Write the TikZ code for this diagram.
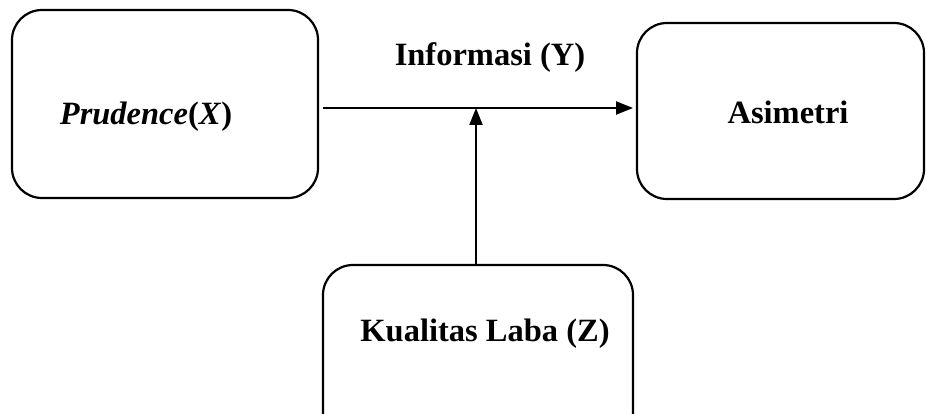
\documentclass[tikz,border=0pt]{standalone}
\usepackage{fontspec}
\setmainfont{Liberation Serif}
\usetikzlibrary{arrows.meta}
\begin{document}
\begin{tikzpicture}[x=1pt,y=-1pt,
  box/.style={draw,line width=2.2pt,rounded corners=30pt,inner sep=0pt},
  lbl/.style={font=\fontsize{32.5}{38}\selectfont\bfseries,inner sep=0pt},
  arr/.style={line width=2.2pt,-{Triangle[length=17pt,width=13pt]}}]
\useasboundingbox (0,0) rectangle (926,414);
\node[box,minimum width=306pt,minimum height=188pt] (left) at (165,104) {};
\node[box,minimum width=287pt,minimum height=176pt] (right) at (780.5,111) {};
\node[box,minimum width=310pt,minimum height=180pt] (bottom) at (478,355) {};
\node[lbl] (tx) at (146,117) {\itshape Prudence\textup{(}X\textup{)}};
\node[lbl] (ta) at (788,112) {Asimetri};
\node[lbl] (ty) at (490,58) {Informasi (Y)};
\node[lbl] (tz) at (485,334) {Kualitas Laba (Z)};
\coordinate (hs) at (323,108);
\coordinate (he) at (633,108);
\coordinate (vs) at (476,265);
\coordinate (ve) at (476,108);
\draw[arr] (hs) -- (he);
\draw[arr] (vs) -- (ve);
\end{tikzpicture}
\end{document}
